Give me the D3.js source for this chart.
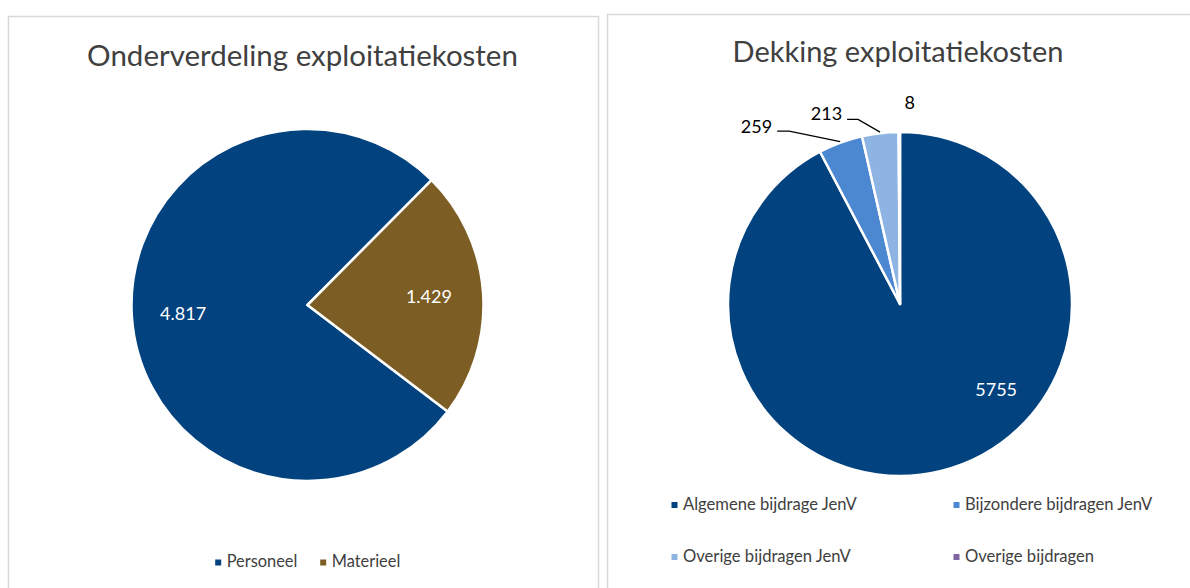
<!DOCTYPE html>
<html>
<head>
<meta charset="utf-8">
<script src="https://cdn.jsdelivr.net/npm/d3@7"></script>
<style>
  html, body { margin: 0; padding: 0; background: #ffffff; }
  svg { display: block; }
  text { font-family: Lato, "Open Sans", "Noto Sans", sans-serif; }
</style>
</head>
<body>
<svg id="chart" width="1190" height="588"></svg>
<script>
// ---------------- DATA ----------------
const leftTitle = "Onderverdeling exploitatiekosten";
const leftCategories = ["Personeel", "Materieel"];
const leftValues = [4817, 1429];
const leftLabels = ["4.817", "1.429"];

const rightTitle = "Dekking exploitatiekosten";
const rightCategories = ["Algemene bijdrage JenV", "Bijzondere bijdragen JenV", "Overige bijdragen JenV", "Overige bijdragen"];
const rightValues = [5755, 259, 213, 8];
const rightLabels = ["5755", "259", "213", "8"];

// ---------------- STYLE / LAYOUT ----------------
const leftColors = ["#01427F", "#7C5D24"];
const rightColors = ["#01427F", "#4C87D1", "#8EB4E3", "#8064A2"];
const textGrey = "#404040";
const deg = Math.PI / 180;

const svg = d3.select("#chart");

// panels
svg.append("rect").attr("x", 8.5).attr("y", 16.5).attr("width", 590).attr("height", 620)
  .attr("fill", "#fff").attr("stroke", "#d9d9d9").attr("stroke-width", 1.5);
svg.append("rect").attr("x", 607.5).attr("y", 14.5).attr("width", 620).attr("height", 620)
  .attr("fill", "#fff").attr("stroke", "#d9d9d9").attr("stroke-width", 1.5);

function fit(sel, target) {
  const base = 20;
  sel.attr("font-size", base);
  const w = sel.node().getComputedTextLength();
  sel.attr("font-size", base * target / w);
}

// ---------- Left chart ----------
{
  const cx = 307.5, cy = 305, r = 176;
  const g = svg.append("g").attr("transform", `translate(${cx},${cy})`);
  const start = 127.2 * deg;
  const pie = d3.pie().sort(null).value(d => d).startAngle(start).endAngle(start + 2 * Math.PI);
  const arcs = pie(leftValues);
  const arc = d3.arc().innerRadius(0).outerRadius(r);
  const color = d3.scaleOrdinal().domain(leftCategories).range(leftColors);
  g.selectAll("path.slice").data(arcs).join("path")
    .attr("class", "slice")
    .attr("d", arc)
    .attr("fill", (d, i) => color(leftCategories[i]))
    .attr("stroke", "#fff").attr("stroke-width", 2.5).attr("stroke-linejoin", "round");
  const labelArc = d3.arc().innerRadius(r * 0.7).outerRadius(r * 0.7);
  g.selectAll("text.lbl").data(arcs).join("text")
    .attr("class", "lbl")
    .attr("transform", d => { const c = labelArc.centroid(d); return `translate(${c[0] - 1.5},${c[1] + 6.5})`; })
    .attr("text-anchor", "middle")
    .attr("fill", "#fff")
    .attr("font-size", 18)
    .text((d, i) => leftLabels[i]);

  const t = svg.append("text").attr("x", 302.5).attr("y", 66).attr("text-anchor", "middle")
    .attr("fill", textGrey).text(leftTitle);
  fit(t, 431);

  // legend
  const lg = svg.append("g");
  const legX = [226.7, 331.7];
  leftCategories.forEach((c, i) => {
    lg.append("rect").attr("x", legX[i] - 11.5).attr("y", 559.5).attr("width", 6).attr("height", 6)
      .attr("fill", color(c));
    const tt = lg.append("text").attr("x", legX[i]).attr("y", 567.3).attr("fill", textGrey).text(c);
    tt.attr("font-size", 16.4);
  });
}

// ---------- Right chart ----------
{
  const cx = 900, cy = 304, r = 172;
  const g = svg.append("g").attr("transform", `translate(${cx},${cy})`);
  const pie = d3.pie().sort(null).value(d => d).startAngle(0).endAngle(2 * Math.PI);
  const arcs = pie(rightValues);
  const arc = d3.arc().innerRadius(0).outerRadius(r);
  const color = d3.scaleOrdinal().domain(rightCategories).range(rightColors);
  g.selectAll("path.slice").data(arcs).join("path")
    .attr("class", "slice")
    .attr("d", arc)
    .attr("fill", (d, i) => color(rightCategories[i]))
    .attr("stroke", "#fff").attr("stroke-width", 2.5).attr("stroke-linejoin", "round");

  // label layout: big inner label, small outside labels with leader lines
  const labelLayout = [
    { inside: true, rf: 0.75, ang: 131.8 },
    { inside: false, line: true, elbow: [-51, -10.5], end: [-63, -10.5], text: [-68, -8.5], anchor: "end" },
    { inside: false, line: true, elbow: [-22, -12.7], end: [-33, -12.7], text: [-38, -12], anchor: "end" },
    { inside: false, line: false, text: [10.5, -22], anchor: "middle" }
  ];
  arcs.forEach((d, i) => {
    const L = labelLayout[i];
    const mid = (d.startAngle + d.endAngle) / 2;
    if (L.inside) {
      const a = L.ang * deg;
      g.append("text").attr("x", Math.sin(a) * r * L.rf).attr("y", -Math.cos(a) * r * L.rf + 6.5)
        .attr("text-anchor", "middle").attr("fill", "#fff").attr("font-size", 18).text(rightLabels[i]);
    } else {
      const ax = Math.sin(mid) * (r + 1), ay = -Math.cos(mid) * (r + 1);
      if (L.line) {
        g.append("polyline")
          .attr("points", [[ax, ay], [ax + L.elbow[0], ay + L.elbow[1]], [ax + L.end[0], ay + L.end[1]]].map(p => p.join(",")).join(" "))
          .attr("fill", "none").attr("stroke", "#000").attr("stroke-width", 1.3);
      }
      g.append("text").attr("x", ax + L.text[0]).attr("y", ay + L.text[1])
        .attr("text-anchor", L.anchor).attr("fill", "#000").attr("font-size", 18).text(rightLabels[i]);
    }
  });

  const t = svg.append("text").attr("x", 898).attr("y", 62.3).attr("text-anchor", "middle")
    .attr("fill", textGrey).text(rightTitle);
  fit(t, 331);

  const lg = svg.append("g");
  const pos = [[683, 510], [965, 510], [683, 562], [965, 562]];
  rightCategories.forEach((c, i) => {
    lg.append("rect").attr("x", pos[i][0] - 11.5).attr("y", pos[i][1] - 8).attr("width", 6).attr("height", 6)
      .attr("fill", color(c));
    lg.append("text").attr("x", pos[i][0]).attr("y", pos[i][1]).attr("fill", textGrey)
      .attr("font-size", 16.6).text(c);
  });
}
</script>
</body>
</html>
